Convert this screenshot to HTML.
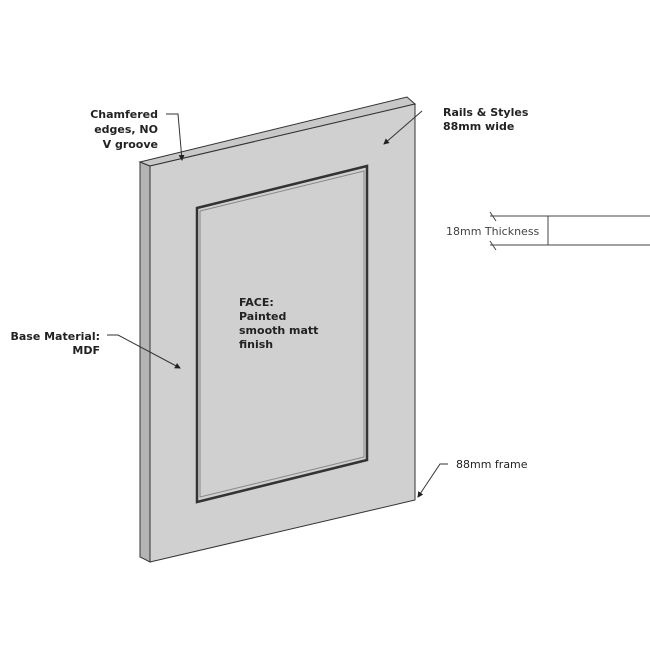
<!DOCTYPE html>
<html><head><style>
body{margin:0;background:#fff}
svg text{font-family:"DejaVu Sans","Liberation Sans",sans-serif;font-size:11px;font-weight:bold;fill:#222}
</style></head><body>
<svg width="650" height="650" viewBox="0 0 650 650" xmlns="http://www.w3.org/2000/svg">
<defs><marker id="a" markerWidth="6" markerHeight="6" refX="5" refY="3" orient="auto"><path d="M0,0 L6,3 L0,6 z" fill="#222"/></marker></defs>
<!-- side strip -->
<polygon points="140,162 150,166 150,562 140,557" fill="#b4b4b4" stroke="#333" stroke-width="1"/>
<!-- top strip -->
<polygon points="140,162 407,97 415,104 150,166" fill="#c8c8c8" stroke="#333" stroke-width="1"/>
<!-- front face -->
<polygon points="150,166 415,104 415,500 150,562" fill="#d0d0d0" stroke="#333" stroke-width="1"/>
<!-- inner panel -->
<polygon points="197,208 367,166 367,460 197,502" fill="#d0d0d0" stroke="#333" stroke-width="2.5"/>
<polygon points="200,211 364,171 364,457 200,497" fill="none" stroke="#888" stroke-width="1"/>
<!-- leaders -->
<polyline points="166,114 178,114 182,160" fill="none" stroke="#333" marker-end="url(#a)"/>
<line x1="422" y1="111" x2="384" y2="144" stroke="#333" marker-end="url(#a)"/>
<polyline points="107,335 118,335 180,368" fill="none" stroke="#333" marker-end="url(#a)"/>
<polyline points="448,464 440,464 418,497" fill="none" stroke="#333" marker-end="url(#a)"/>
<!-- thickness -->
<line x1="490" y1="216" x2="650" y2="216" stroke="#444"/>
<line x1="490" y1="245" x2="650" y2="245" stroke="#444"/>
<line x1="548" y1="216" x2="548" y2="245" stroke="#444"/>
<line x1="490" y1="212" x2="496" y2="221" stroke="#444"/>
<line x1="490" y1="241" x2="496" y2="250" stroke="#444"/>
<text x="446" y="235" style="font-weight:normal;fill:#444">18mm Thickness</text>
<text x="158" y="118" text-anchor="end">Chamfered</text>
<text x="158" y="133" text-anchor="end">edges, NO</text>
<text x="158" y="148" text-anchor="end">V groove</text>
<text x="443" y="116">Rails &amp; Styles</text>
<text x="443" y="130">88mm wide</text>
<text x="100" y="340" text-anchor="end">Base Material:</text>
<text x="100" y="354" text-anchor="end">MDF</text>
<text x="239" y="306">FACE:</text>
<text x="239" y="320">Painted</text>
<text x="239" y="334">smooth matt</text>
<text x="239" y="348">finish</text>
<text x="456" y="468" style="font-weight:normal">88mm frame</text>
</svg>
</body></html>
